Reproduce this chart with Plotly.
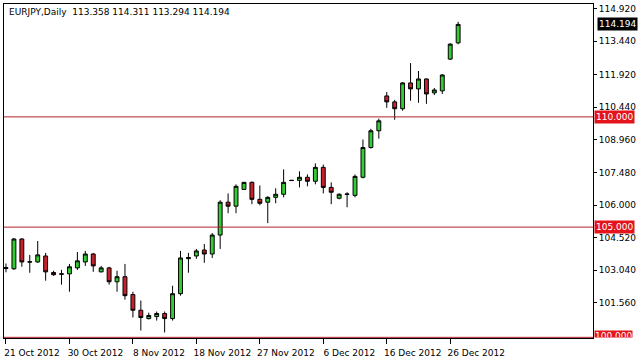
import plotly.graph_objects as go

dates = ["21 Oct", "22 Oct", "23 Oct", "24 Oct", "25 Oct", "26 Oct", "28 Oct", "29 Oct", "30 Oct", "31 Oct",
         "1 Nov", "2 Nov", "4 Nov", "5 Nov", "6 Nov", "7 Nov", "8 Nov", "9 Nov", "11 Nov", "12 Nov",
         "13 Nov", "14 Nov", "15 Nov", "16 Nov", "18 Nov", "19 Nov", "20 Nov", "21 Nov", "22 Nov", "23 Nov",
         "25 Nov", "26 Nov", "27 Nov", "28 Nov", "29 Nov", "30 Nov", "2 Dec", "3 Dec", "4 Dec", "5 Dec",
         "6 Dec", "7 Dec", "9 Dec", "10 Dec", "11 Dec", "12 Dec", "13 Dec", "14 Dec", "16 Dec", "17 Dec",
         "18 Dec", "19 Dec", "20 Dec", "21 Dec", "23 Dec", "24 Dec", "26 Dec", "27 Dec"]

opens = [103.12, 103.11, 104.46, 103.41, 103.42, 103.69, 102.94, 102.86, 102.88, 103.15,
         103.42, 103.78, 102.97, 103.15, 102.52, 102.75, 101.94, 101.23, 100.85, 100.94,
         101.08, 100.85, 101.98, 103.57, 103.69, 103.96, 103.78, 104.64, 106.13, 105.95,
         106.71, 107.03, 106.26, 106.13, 106.35, 106.49, 107.11, 107.12, 107.26, 107.08,
         107.71, 106.80, 106.31, 106.48, 106.44, 107.26, 108.61, 109.37, 110.95, 110.68,
         110.37, 111.54, 111.27, 111.72, 111.09, 111.18, 112.62, 113.358]
highs = [103.35, 104.51, 104.50, 103.74, 104.37, 103.83, 103.02, 103.06, 103.33, 103.87,
         103.92, 103.83, 103.24, 103.20, 103.02, 103.33, 102.07, 101.67, 101.12, 101.17,
         101.17, 102.34, 103.92, 103.83, 104.01, 104.23, 104.73, 106.22, 106.53, 106.94,
         107.05, 107.07, 106.89, 106.40, 106.76, 107.62, 107.13, 107.53, 107.39, 107.89,
         107.84, 107.03, 106.53, 106.58, 107.39, 108.97, 109.46, 109.92, 111.13, 110.77,
         111.58, 112.44, 112.08, 111.74, 111.31, 111.94, 113.34, 114.311]
lows = [102.95, 103.06, 103.20, 102.93, 103.38, 102.57, 102.79, 102.39, 102.07, 103.06,
        103.24, 102.97, 102.95, 102.39, 102.07, 101.71, 100.90, 100.31, 100.81, 100.76,
        100.22, 100.76, 101.89, 102.93, 103.56, 103.38, 103.60, 104.01, 105.63, 105.63,
        106.69, 106.04, 105.99, 105.18, 106.08, 106.35, 107.10, 106.80, 106.85, 106.94,
        106.53, 106.04, 106.26, 105.90, 106.35, 107.21, 108.56, 109.01, 110.41, 109.87,
        110.28, 110.73, 110.64, 110.59, 110.99, 111.04, 112.58, 113.294]
closes = [103.16, 104.46, 103.42, 103.43, 103.74, 102.97, 102.84, 102.88, 103.20, 103.47,
          103.78, 103.24, 103.15, 102.52, 102.75, 101.89, 101.23, 100.90, 100.99, 101.08,
          100.85, 101.98, 103.60, 103.62, 103.92, 103.78, 104.64, 106.13, 105.95, 106.85,
          107.03, 106.26, 106.08, 106.35, 106.49, 107.03, 107.12, 107.26, 107.08, 107.71,
          106.80, 106.58, 106.49, 106.50, 107.30, 108.61, 109.37, 109.82, 110.68, 110.37,
          111.54, 111.27, 111.72, 111.04, 111.22, 111.90, 113.30, 114.194]

tick_idx = [0, 8, 16, 24, 32, 40, 48, 56]
tick_labels = ["21 Oct 2012", "30 Oct 2012", "8 Nov 2012", "18 Nov 2012",
               "27 Nov 2012", "6 Dec 2012", "16 Dec 2012", "26 Dec 2012"]
y_ticks = [114.920, 113.440, 111.920, 110.440, 108.960, 107.480, 106.000, 104.520, 103.040, 101.560]
levels = [110.0, 105.0, 100.0]
last_price = 114.194
title_text = "EURJPY,Daily\u00a0 113.358 114.311 113.294 114.194"

FONT = "DejaVu Sans"
x = list(range(len(dates)))

fig = go.Figure()
fig.add_trace(go.Candlestick(
    x=x, open=opens, high=highs, low=lows, close=closes,
    increasing=dict(fillcolor="#33CC33", line=dict(color="black", width=1)),
    decreasing=dict(fillcolor="#C8202C", line=dict(color="black", width=1)),
    text=dates, hoverinfo="text+x", showlegend=False,
))

Y_MIN = 99.97
for lv in levels:
    fig.add_shape(type="line", xref="paper", x0=0, x1=1, yref="y", y0=lv, y1=lv,
                  line=dict(color="#B0202A", width=1), layer="above")
    if lv > Y_MIN + 0.3:
        fig.add_annotation(xref="paper", x=1, xanchor="left", xshift=1, yref="y", y=lv,
                           text=f"{lv:.3f}", showarrow=False, bgcolor="#E3141C",
                           font=dict(family=FONT, size=9, color="white"), borderpad=1)
    else:
        fig.add_annotation(xref="paper", x=1, xanchor="left", xshift=1, yref="paper", y=0,
                           yanchor="bottom", height=6, valign="top",
                           text=f"{lv:.3f}", showarrow=False, bgcolor="#E3141C",
                           font=dict(family=FONT, size=9, color="white"), borderpad=0)

fig.add_annotation(xref="paper", x=1, xanchor="left", xshift=4, yref="y", y=last_price,
                   text=f"{last_price:.3f}", showarrow=False, bgcolor="black",
                   font=dict(family=FONT, size=9, color="white"), borderpad=1)

fig.update_layout(
    width=639, height=361,
    margin=dict(l=3, r=42, t=3, b=20),
    paper_bgcolor="white", plot_bgcolor="white",
    title=dict(text=title_text, x=9 / 639, xanchor="left", y=1 - 12 / 361, yanchor="middle",
               font=dict(family=FONT, size=9, color="black")),
    xaxis=dict(range=[-0.25, 74], tickmode="array", tickvals=tick_idx, ticktext=tick_labels,
               ticks="outside", ticklen=5, tickcolor="black", showgrid=False, zeroline=False,
               showline=True, linecolor="black", linewidth=1, mirror=True,
               rangeslider=dict(visible=False), ticklabelshift=26, ticklabelstandoff=1,
               tickfont=dict(family=FONT, size=9, color="black")),
    yaxis=dict(side="right", range=[Y_MIN, 115.12], tickmode="array", tickvals=y_ticks,
               ticktext=[f"{v:.3f}" for v in y_ticks], ticks="outside", ticklen=3,
               tickcolor="black", showgrid=False, zeroline=False, showline=True,
               linecolor="black", linewidth=1, mirror=True,
               tickfont=dict(family=FONT, size=9, color="black")),
)

fig.write_html("out.html")
